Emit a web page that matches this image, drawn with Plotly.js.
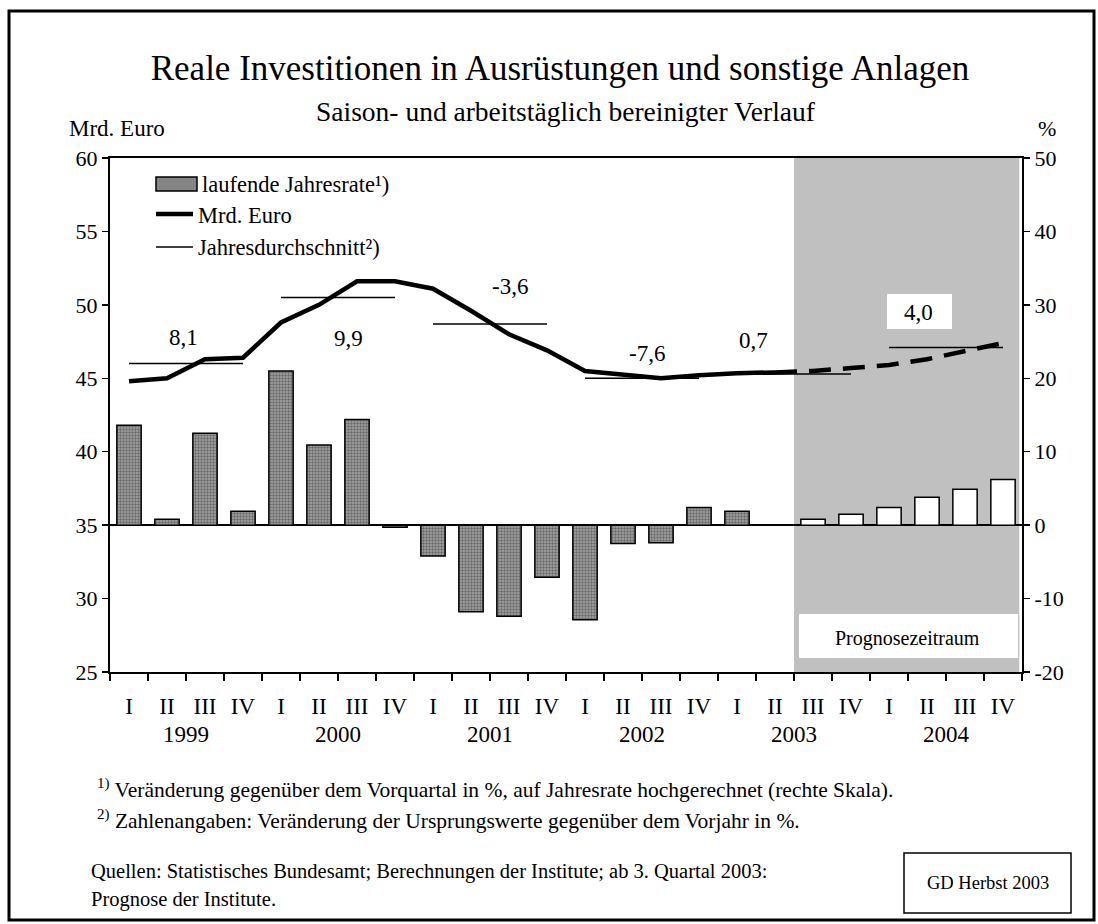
<!DOCTYPE html>
<html>
<head>
<meta charset="utf-8">
<script src="https://cdn.plot.ly/plotly-3.0.1.min.js"></script>
<style>html,body{margin:0;padding:0;background:#fff;}#chart{width:1098px;height:924px;}</style>
</head>
<body>
<div id="chart"></div>
<script>
// ---- data ----
const years = ['1999', '2000', '2001', '2002', '2003', '2004'];
const quarters = ['I', 'II', 'III', 'IV'];
// laufende Jahresrate (%), right scale; actual until 2003 II
const rateActual = [13.6, 0.8, 12.5, 1.9, 21.0, 10.9, 14.4, -0.3, -4.2, -11.8, -12.4, -7.1, -12.9, -2.5, -2.4, 2.4, 1.9, 0.0];
// forecast 2003 III - 2004 IV
const rateForecast = [0.8, 1.5, 2.4, 3.8, 4.9, 6.2];
// Mrd. Euro, left scale
const levelActual = [44.8, 45.0, 46.3, 46.4, 48.8, 50.0, 51.6, 51.6, 51.1, 49.6, 48.0, 46.9, 45.5, 45.25, 45.0, 45.2, 45.35, 45.4];
const levelForecast = [45.5, 45.7, 45.9, 46.3, 46.85, 47.4];
// Jahresdurchschnitt (Mrd. Euro)
const annualAvg = [46.0, 50.5, 48.7, 45.0, 45.3, 47.1];
// Veränderung gegenüber Vorjahr (%)
const annualChange = ['8,1', '9,9', '-3,6', '-7,6', '0,7', '4,0'];
// right axis tick labels
const rightTickVals = [-20, -10, 0, 10, 20, 30, 40, 50];
const rightTickText = ['-20', '-10', '0', '10', '20', '30', '40', '50'];

// ---- build ----
const cats = [], catQuarter = [];
years.forEach(y => quarters.forEach(q => { cats.push(q + ' ' + y); catQuarter.push(q); }));
const nAct = rateActual.length;
const FONT = 'Liberation Serif, Times New Roman, serif';

const traces = [];
traces.push({
  type: 'bar', x: cats.slice(0, nAct), y: rateActual, yaxis: 'y2',
  width: 0.64,
  marker: { color: '#a6a6a6', line: { color: '#000', width: 1.5 },
            pattern: { shape: '.', fillmode: 'overlay', fgcolor: '#2e2e2e', size: 3, solidity: 0.5 } },
  showlegend: false, hoverinfo: 'skip'
});
traces.push({
  type: 'bar', x: cats.slice(nAct), y: rateForecast, yaxis: 'y2',
  width: 0.64,
  marker: { color: '#ffffff', line: { color: '#000', width: 1.5 } },
  showlegend: false, hoverinfo: 'skip'
});
years.forEach((yr, i) => {
  traces.push({
    type: 'scatter', mode: 'lines', x: ['I ' + yr, 'IV ' + yr], y: [annualAvg[i], annualAvg[i]],
    line: { color: '#000', width: 1.5 }, showlegend: false, hoverinfo: 'skip'
  });
});
traces.push({
  type: 'scatter', mode: 'lines', x: cats.slice(0, nAct), y: levelActual,
  line: { color: '#000', width: 4.5 }, showlegend: false, hoverinfo: 'skip'
});
traces.push({
  type: 'scatter', mode: 'lines',
  x: cats.slice(nAct - 1),
  y: [levelActual[nAct - 1]].concat(levelForecast),
  line: { color: '#000', width: 4.5, dash: '22px,12px' }, showlegend: false, hoverinfo: 'skip'
});

// pixel helpers for decoration (plot area 110..1022 x 158..672)
const px = v => (v - 110) / 912;
const py = v => (672 - v) / 514;

const annPos = [[183, 337], [348, 338], [510, 286], [647, 353], [753, 340], [918, 312]];
const annotations = annualChange.map((t, i) => ({
  text: t, xref: 'paper', yref: 'paper', x: px(annPos[i][0]), y: py(annPos[i][1]),
  showarrow: false, font: { family: FONT, size: 23, color: '#000' }, xanchor: 'center', yanchor: 'middle'
}));
years.forEach((yr, i) => annotations.push({
  text: yr, xref: 'x', yref: 'paper', x: i * 4 + 1.5, y: py(734), showarrow: false,
  font: { family: FONT, size: 23, color: '#000' }, xanchor: 'center', yanchor: 'middle'
}));
const txt = (t, x, y, size, xa) => ({
  text: t, xref: 'paper', yref: 'paper', x: px(x), y: py(y), showarrow: false,
  font: { family: FONT, size: size, color: '#000' }, xanchor: xa || 'left', yanchor: 'middle'
});
annotations.push(
  txt('Saison- und arbeitstäglich bereinigter Verlauf', 566, 111, 27.5, 'center'),
  txt('Mrd. Euro', 67, 128, 23),
  txt('%', 1047, 128, 22, 'center'),
  txt('laufende Jahresrate¹)', 200, 184, 22.5),
  txt('Mrd. Euro', 196, 215, 22.5),
  txt('Jahresdurchschnitt²)', 196, 247, 22.5),
  txt('Prognosezeitraum', 907, 638, 20, 'center'),
  txt('<sup>1)</sup> Veränderung gegenüber dem Vorquartal in %, auf Jahresrate hochgerechnet (rechte Skala).', 95, 788, 21.5),
  txt('<sup>2)</sup> Zahlenangaben: Veränderung der Ursprungswerte gegenüber dem Vorjahr in %.', 95, 820, 21.5),
  txt('Quellen: Statistisches Bundesamt; Berechnungen der Institute; ab 3. Quartal 2003:', 89, 871, 20.5),
  txt('Prognose der Institute.', 89, 899, 20.5),
  txt('GD Herbst 2003', 988, 883, 18.5, 'center')
);

const shapes = [
  { type: 'rect', xref: 'paper', yref: 'paper', x0: 0.75, x1: 0.997, y0: 0, y1: 1,
    fillcolor: '#c0c0c0', line: { width: 0 }, layer: 'below' },
  { type: 'rect', xref: 'paper', yref: 'paper', x0: px(799), x1: px(1018), y0: py(658), y1: py(614),
    fillcolor: '#ffffff', line: { width: 0 }, layer: 'below' },
  { type: 'rect', xref: 'paper', yref: 'paper', x0: px(887), x1: px(952), y0: py(329), y1: py(294),
    fillcolor: '#ffffff', line: { width: 0 }, layer: 'below' },
  // legend symbols
  { type: 'rect', xref: 'paper', yref: 'paper', x0: px(156), x1: px(197), y0: py(191), y1: py(177),
    fillcolor: '#858585', line: { color: '#000', width: 1.5 } },
  { type: 'line', xref: 'paper', yref: 'paper', x0: px(156), x1: px(193), y0: py(214), y1: py(214),
    line: { color: '#000', width: 4.5 } },
  { type: 'line', xref: 'paper', yref: 'paper', x0: px(156), x1: px(193), y0: py(247), y1: py(247),
    line: { color: '#000', width: 1.5 } },
  // GD box
  { type: 'rect', xref: 'paper', yref: 'paper', x0: px(904), x1: px(1071), y0: py(913), y1: py(853),
    fillcolor: 'rgba(0,0,0,0)', line: { color: '#000', width: 1.5 } },
  // outer frame
  { type: 'rect', xref: 'paper', yref: 'paper', x0: px(9), x1: px(1094), y0: py(920), y1: py(11),
    fillcolor: 'rgba(0,0,0,0)', line: { color: '#000', width: 3 } }
];

const layout = {
  width: 1098, height: 924,
  margin: { l: 110, r: 76, t: 158, b: 252 },
  paper_bgcolor: '#fff', plot_bgcolor: '#fff',
  font: { family: FONT, color: '#000' },
  title: { text: 'Reale Investitionen in Ausrüstungen und sonstige Anlagen',
           font: { family: FONT, size: 35, color: '#000' },
           x: 0.51, xanchor: 'center', y: 1 - 68 / 924, yanchor: 'middle', xref: 'container', yref: 'container' },
  barmode: 'overlay',
  showlegend: false,
  xaxis: {
    type: 'category', categoryorder: 'array', categoryarray: cats,
    tickmode: 'array', tickvals: cats, ticktext: catQuarter, tickson: 'boundaries',
    showgrid: false, zeroline: false,
    showline: true, linecolor: '#000', linewidth: 2, mirror: true,
    ticks: 'outside', ticklen: 7, tickwidth: 1.5, tickcolor: '#000',
    tickfont: { family: FONT, size: 23, color: '#000' }, ticklabelstandoff: 12
  },
  yaxis: {
    range: [25, 60], dtick: 5, tick0: 25, showgrid: false, zeroline: false,
    showline: true, linecolor: '#000', linewidth: 2,
    ticks: 'outside', ticklen: 6, tickwidth: 1.5, tickcolor: '#000',
    tickfont: { family: FONT, size: 22, color: '#000' }
  },
  yaxis2: {
    range: [-20, 50], tickmode: 'array', tickvals: rightTickVals, ticktext: rightTickText,
    overlaying: 'y', side: 'right', showgrid: false,
    zeroline: true, zerolinecolor: '#000', zerolinewidth: 1.5,
    showline: true, linecolor: '#000', linewidth: 2,
    ticks: 'outside', ticklen: 6, tickwidth: 1.5, tickcolor: '#000',
    tickfont: { family: FONT, size: 22, color: '#000' }
  },
  annotations: annotations,
  shapes: shapes
};

Plotly.newPlot('chart', traces, layout, { displayModeBar: false, staticPlot: true });
</script>
</body>
</html>
